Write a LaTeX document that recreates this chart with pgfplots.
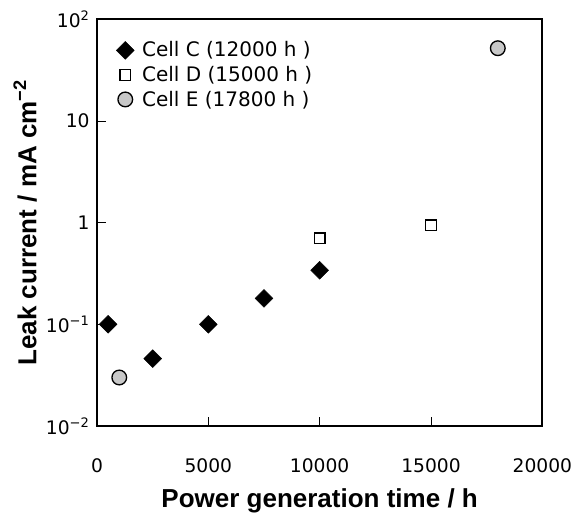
\documentclass[border=0pt]{standalone}
\usepackage{fontspec}
\setmainfont{DejaVu Sans}
\newfontfamily\labfont{Liberation Sans}
\usepackage{pgfplots}
\pgfplotsset{compat=1.18}
\definecolor{cgray}{RGB}{200,200,200}
\begin{document}
\begin{tikzpicture}
\begin{axis}[
  scale only axis, width=334pt, height=305pt,
  ymode=log, xmin=0, xmax=20000, ymin=0.01, ymax=100,
  axis line style={line width=1.3pt},
  tick style={black, line width=0.6pt},
  major tick length=7pt,
  tick align=inside, xtick pos=bottom, ytick pos=left,
  yminorticks=false,
  xtick={0,5000,10000,15000,20000},
  xticklabels={0,5000,10000,15000,20000},
  scaled x ticks=false,
  ytick={0.01,0.1,1,10,100},
  yticklabels={10\textsuperscript{−2},10\textsuperscript{−1},1,10,10\textsuperscript{2}},
  ticklabel style={font=\fontsize{14}{16}\selectfont},
  xticklabel style={yshift=-21pt},
  yticklabel style={xshift=-2pt},
  xlabel={Power generation time / h},
  ylabel={Leak current / mA cm\textsuperscript{−2}},
  label style={font=\labfont\bfseries\fontsize{19.5}{21}\selectfont},
  xlabel style={yshift=-5pt},
  ylabel style={yshift=0pt},
  legend style={draw=none, fill=none, at={(0.043,0.952)}, anchor=north west,
    font=\fontsize{15}{17}\selectfont, row sep=1.5pt, cells={anchor=west},
    inner sep=0pt},
  legend cell align=left,
]
\addplot[only marks, mark=square*, mark size=4.7pt, mark options={rotate=45, fill=black, draw=black}]
  coordinates {(500,0.1) (2500,0.046) (5000,0.1) (7500,0.18) (10000,0.34)};
\addlegendentry{\hspace{4pt}Cell C (12000 h )}
\addplot[only marks, mark=square, mark size=4pt, mark options={draw=black, line width=1.1pt, fill=white}]
  coordinates {(10000,0.70) (15000,0.94)};
\addlegendentry{\hspace{4pt}Cell D (15000 h )}
\addplot[only marks, mark=*, mark size=5.5pt, mark options={draw=black, line width=1pt, fill=cgray}]
  coordinates {(1000,0.030) (18000,52)};
\addlegendentry{\hspace{4pt}Cell E (17800 h )}
\end{axis}
\pgfresetboundingbox
\path (current axis.south west) ++(-72.75pt,-68.25pt) coordinate (bbA);
\path (current axis.south west) ++(359.25pt,319.5pt) coordinate (bbB);
\path[use as bounding box] (bbA) rectangle (bbB);
\end{tikzpicture}
\end{document}
